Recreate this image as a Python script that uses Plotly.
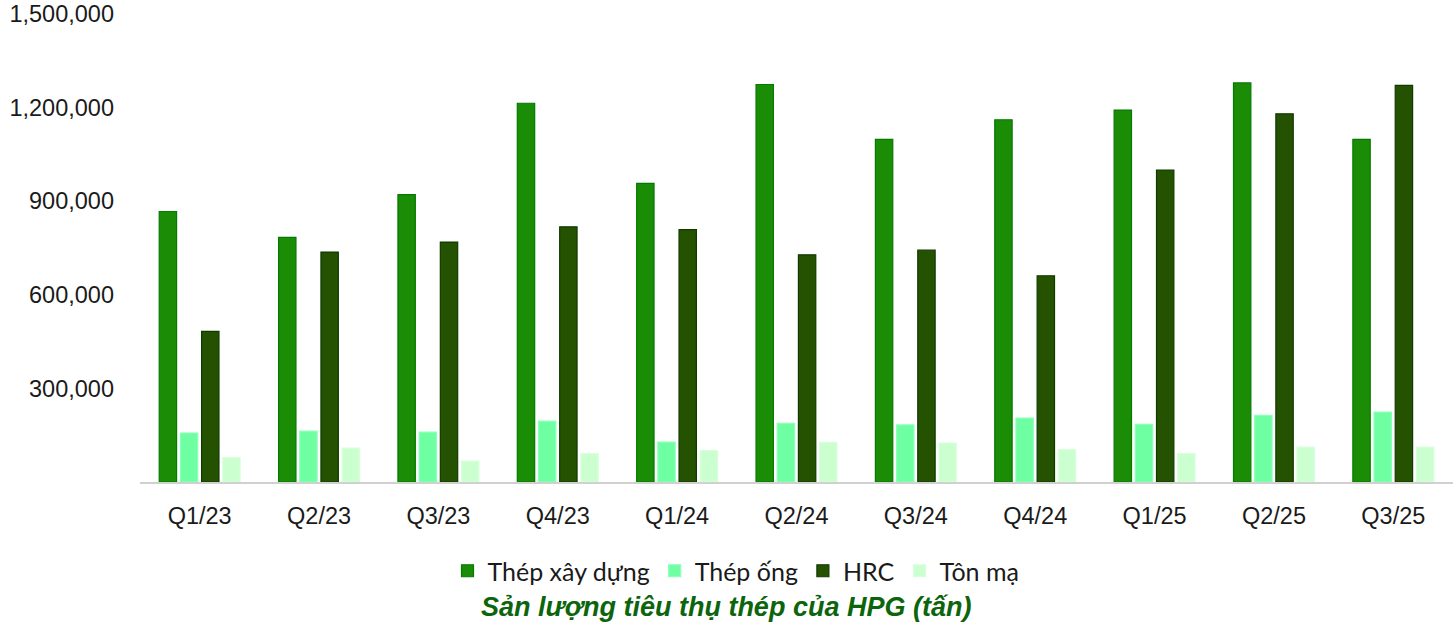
import plotly.graph_objects as go

quarters = ["Q1/23", "Q2/23", "Q3/23", "Q4/23", "Q1/24", "Q2/24", "Q3/24", "Q4/24", "Q1/25", "Q2/25", "Q3/25"]
thep_xay_dung = [867000, 784000, 921000, 1214000, 957000, 1274000, 1098000, 1161000, 1192000, 1279000, 1098000]
thep_ong = [157000, 163000, 160000, 195000, 128000, 188000, 183000, 205000, 185000, 214000, 224000]
hrc = [483000, 737000, 769000, 818000, 809000, 728000, 743000, 661000, 1000000, 1180000, 1271000]
ton_ma = [78000, 109000, 67000, 91000, 101000, 127000, 125000, 104000, 91000, 112000, 112000]

y_ticks = [300000, 600000, 900000, 1200000, 1500000]
y_tick_labels = ["300,000", "600,000", "900,000", "1,200,000", "1,500,000"]

series = [
    ("Thép xây dựng", thep_xay_dung, "#1A8C06", "#047A00"),
    ("Thép ống", thep_ong, "#6EFFA3", "#8CFFB8"),
    ("HRC", hrc, "#245200", "#0F3A00"),
    ("Tôn mạ", ton_ma, "#CCFFD0", "#D8FFDC"),
]

fig = go.Figure()
for name, vals, fill, line in series:
    fig.add_trace(go.Bar(
        x=quarters, y=vals, name=name,
        marker=dict(color=fill, line=dict(color=line, width=1.2)),
    ))

tick_font = "Liberation Sans, Arial, sans-serif"
legend_font = "Lato, sans-serif"
plot_top, plot_bottom, plot_left, plot_right = 14, 482, 140, 1453
ph = plot_bottom - plot_top
pw = plot_right - plot_left

fig.update_layout(
    width=1456, height=634,
    margin=dict(l=plot_left, r=1456 - plot_right, t=plot_top, b=634 - plot_bottom),
    plot_bgcolor="white", paper_bgcolor="white",
    barmode="group", bargap=0.29, bargroupgap=0.18,
    font=dict(family=tick_font, size=20, color="#1a1a1a"),
    showlegend=True,
    legend=dict(
        orientation="h", x=(736 - plot_left) / pw, xanchor="center",
        y=(plot_bottom - 571) / ph, yanchor="middle",
        font=dict(size=25, color="#1a1a1a", family=legend_font),
        traceorder="normal",
    ),
    xaxis=dict(
        showgrid=False, showline=True, linecolor="#d0d0d0", linewidth=1.5,
        ticks="", tickfont=dict(size=23.5, color="#1a1a1a"),
        ticklabelstandoff=12, automargin=False,
    ),
    yaxis=dict(
        range=[0, 1500000], showgrid=False, showline=False, zeroline=False,
        tickvals=y_ticks, ticktext=y_tick_labels,
        tickfont=dict(size=23.5, color="#1a1a1a"),
        ticklabelstandoff=25, automargin=False,
    ),
    annotations=[dict(
        text="<b><i>Sản lượng tiêu thụ thép của HPG (tấn)</i></b>",
        x=(726 - plot_left) / pw, xref="paper", xanchor="center",
        y=(plot_bottom - 607) / ph, yref="paper", yanchor="middle",
        showarrow=False, font=dict(size=27, color="#0C650C", family=tick_font),
    )],
)

fig.write_html(
    "out.html",
    config={"displayModeBar": False},
    post_script="document.body.style.margin='0';document.body.style.overflow='hidden';",
)
